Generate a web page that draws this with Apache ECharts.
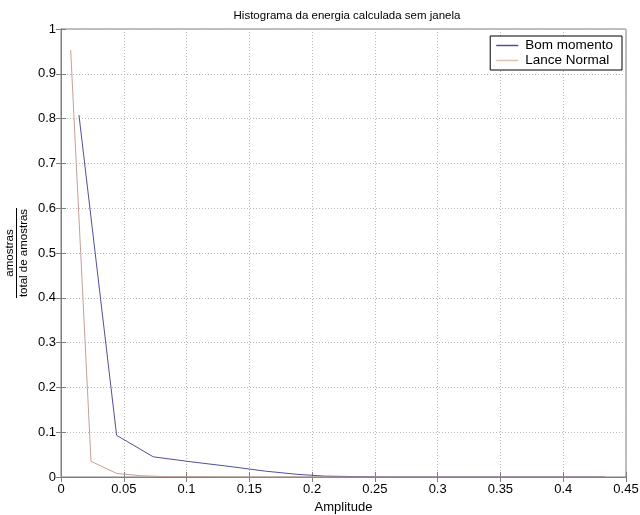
<!DOCTYPE html>
<html>
<head>
<meta charset="utf-8">
<script src="https://cdn.jsdelivr.net/npm/echarts@6/dist/echarts.min.js"></script>
<style>html,body{margin:0;padding:0;background:#fff}#c{width:640px;height:515px}</style>
</head>
<body>
<div id="c"></div>
<script>
var titleText = 'Histograma da energia calculada sem janela';
var xName = 'Amplitude';
var yNum = 'amostras';
var yDen = 'total de amostras';
var seriesNames = ['Bom momento', 'Lance Normal'];

// Bom momento (blue)
var bomX = [0.0143, 0.0443, 0.0735, 0.1034, 0.1330, 0.1630, 0.1880, 0.2100, 0.2330, 0.2630, 0.2930, 0.3230, 0.3530, 0.3830, 0.4130, 0.4333];
var bomY = [0.808, 0.093, 0.045, 0.034, 0.024, 0.013, 0.006, 0.002, 0.001, 0, 0, 0, 0, 0, 0, 0];

// Lance Normal (reddish)
var lanceX = [0.0077, 0.0239, 0.0444, 0.0630, 0.0815, 0.1000, 0.1500, 0.2000, 0.2500, 0.3000, 0.3500, 0.4000, 0.4333];
var lanceY = [0.953, 0.035, 0.008, 0.003, 0.001, 0.001, 0, 0, 0, 0, 0, 0, 0];

function pairs(xs, ys) { return xs.map(function (x, i) { return [x, ys[i]]; }); }

var chart = echarts.init(document.getElementById('c'), null, {renderer: 'canvas'});
var font = 'Liberation Sans, Arial, sans-serif';
var frame = '#7f7f7f';
var gridLine = {show: true, lineStyle: {color: '#b8b8b8', type: [1, 2], width: 1}};
var blue = '#50509a';
var red = '#c4a098';

chart.setOption({
  animation: false,
  backgroundColor: '#fff',
  title: {
    text: titleText, left: 342, top: 5, textAlign: 'center',
    textStyle: {fontFamily: font, fontSize: 11.5, fontWeight: 'normal', color: '#000'}
  },
  grid: {left: 61, right: 14, top: 29, bottom: 38, show: true, borderColor: frame, borderWidth: 1,
         backgroundColor: '#fff', containLabel: false, outerBoundsMode: 'none'},
  legend: {
    right: 18, top: 36, orient: 'vertical',
    backgroundColor: '#fff', borderColor: '#000', borderWidth: 1,
    padding: [2, 9, 2, 6], itemGap: 0, itemWidth: 22, itemHeight: 1.5,
    textStyle: {fontFamily: font, fontSize: 13.5, color: '#000', lineHeight: 15, padding: [0, 0, 0, 2]},
    data: [{name: seriesNames[0], icon: 'rect', itemStyle: {color: blue}},
           {name: seriesNames[1], icon: 'rect', itemStyle: {color: '#e0c0b0'}}]
  },
  xAxis: [{
    type: 'value', min: 0, max: 0.45, interval: 0.05,
    name: xName, nameLocation: 'middle', nameGap: 24,
    nameTextStyle: {fontFamily: font, fontSize: 13, color: '#000'},
    axisLine: {show: true, onZero: false, lineStyle: {color: frame}},
    axisTick: {show: true, inside: true, length: 5, lineStyle: {color: frame}},
    axisLabel: {fontFamily: font, fontSize: 13, color: '#000', margin: 6},
    splitLine: gridLine
  }, {
    type: 'value', min: 0, max: 0.45, interval: 0.05, position: 'top',
    axisLine: {show: true, lineStyle: {color: frame}},
    axisTick: {show: true, inside: true, length: 5, lineStyle: {color: frame}},
    axisLabel: {show: false}, splitLine: {show: false}
  }],
  yAxis: [{
    type: 'value', min: 0, max: 1, interval: 0.1,
    axisLine: {show: true, onZero: false, lineStyle: {color: frame}},
    axisTick: {show: true, inside: true, length: 5, lineStyle: {color: frame}},
    axisLabel: {fontFamily: font, fontSize: 13, color: '#000', margin: 5},
    splitLine: gridLine
  }, {
    type: 'value', min: 0, max: 1, interval: 0.1, position: 'right',
    axisLine: {show: true, lineStyle: {color: frame}},
    axisTick: {show: true, inside: true, length: 5, lineStyle: {color: frame}},
    axisLabel: {show: false}, splitLine: {show: false}
  }],
  graphic: [{
    type: 'group', x: 16.5, y: 253, rotation: Math.PI / 2,
    children: [
      {type: 'text', x: 0, y: -1, style: {text: yNum, fontFamily: font, fontSize: 11.5, fill: '#000', textAlign: 'center', textVerticalAlign: 'bottom'}},
      {type: 'line', shape: {x1: -45, y1: 0, x2: 45, y2: 0}, style: {stroke: '#000', lineWidth: 1}},
      {type: 'text', x: 0, y: 1, style: {text: yDen, fontFamily: font, fontSize: 11.5, fill: '#000', textAlign: 'center', textVerticalAlign: 'top'}}
    ]
  }],
  series: [{
    name: seriesNames[0], type: 'line', symbol: 'none',
    lineStyle: {color: blue, width: 1}, itemStyle: {color: blue},
    data: pairs(bomX, bomY), z: 3
  }, {
    name: seriesNames[1], type: 'line', symbol: 'none',
    lineStyle: {color: red, width: 1}, itemStyle: {color: red},
    data: pairs(lanceX, lanceY), z: 4
  }]
});
</script>
</body>
</html>
